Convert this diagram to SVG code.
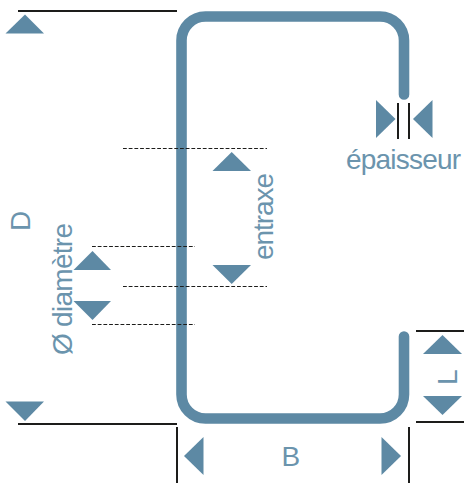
<svg xmlns="http://www.w3.org/2000/svg" width="464" height="483" viewBox="0 0 464 483">
<style>
.profile{fill:none;stroke:#5d89a4;stroke-width:10.6;stroke-linecap:round}
.solid{stroke:#1d1d1b;stroke-width:2;fill:none}
.dash{stroke:#1d1d1b;stroke-width:1.1;stroke-dasharray:3.800 1.900;fill:none}
.arrow{fill:#5d89a4}
text{font-family:"Liberation Sans",Arial,sans-serif;font-size:28px;fill:#6b94ad}
</style>
<rect width="464" height="483" fill="#ffffff"/>
<g id="profile"><path class="profile" d="M404 94.500V40.500A24 24 0 0 0 380 16.500H205.500A24 24 0 0 0 181.500 40.500V394.500A24 24 0 0 0 205.500 418.500H380A24 24 0 0 0 404 394.500V336.500"/></g>
<g id="connectors">
<path class="solid" d="M18 11H177M18 424H177M177 427V483M409 427V483M416 331H464M416 422H464M398 103V139M409 103V139"/>
<path class="dash" d="M123 148.500H267M123 286.500H267M92 246.500H195M92 324.500H195"/>
</g>
<g id="dim-D">
<path class="arrow" d="M25 14.500L44 33.500H5.500Z"/>
<path class="arrow" d="M25 421L44 401.500H5.500Z"/>
<text transform="translate(29.500 231) rotate(-90)">D</text>
</g>
<g id="dim-diametre">
<path class="arrow" d="M92.500 251L111 270H73.500Z"/>
<path class="arrow" d="M92.500 320L111 301H73.500Z"/>
<text transform="translate(72 355) rotate(-90)" textLength="132">Ø diamètre</text>
</g>
<g id="dim-entraxe">
<path class="arrow" d="M231.700 152L251 171H212.500Z"/>
<path class="arrow" d="M231.700 284L251 265H212.500Z"/>
<text transform="translate(272.500 260) rotate(-90)" textLength="87">entraxe</text>
</g>
<g id="dim-epaisseur">
<path class="arrow" d="M395.500 119L376 100V138Z"/>
<path class="arrow" d="M413 119L432.500 100V138Z"/>
<text x="346" y="169" textLength="115">épaisseur</text>
</g>
<g id="dim-L">
<path class="arrow" d="M442.500 335L462 354H423Z"/>
<path class="arrow" d="M442.500 415L462 396H423Z"/>
<text transform="translate(457 385) rotate(-90)">L</text>
</g>
<g id="dim-B">
<path class="arrow" d="M184 456L203.500 437V475Z"/>
<path class="arrow" d="M401 456L381.500 437V475Z"/>
<text x="281.500" y="466">B</text>
</g>
</svg>
